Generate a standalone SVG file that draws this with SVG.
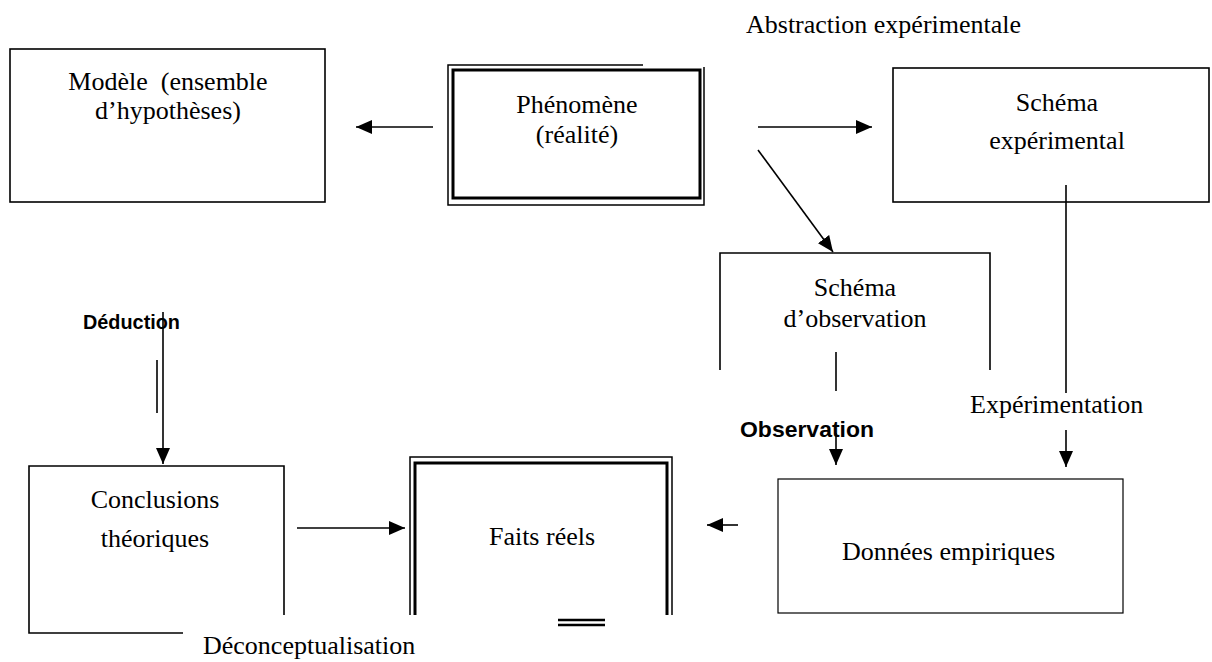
<svg xmlns="http://www.w3.org/2000/svg" width="1212" height="662" viewBox="0 0 1212 662">
<style>
.t{font-family:"Liberation Serif","Times New Roman",serif;font-size:26px;fill:#000}
.b{font-family:"Liberation Sans",Arial,sans-serif;font-weight:bold;fill:#000}
.box{fill:none;stroke:#000;stroke-width:1.6}
.thin{fill:none;stroke:#000;stroke-width:1.5}
.thick{fill:none;stroke:#000;stroke-width:3}
.c{fill:none;stroke:#000;stroke-width:1.6}
</style>
<defs>
<marker id="ah" viewBox="0 0 16 14" refX="16" refY="7" markerWidth="16" markerHeight="14" markerUnits="userSpaceOnUse" orient="auto">
<path d="M0,0 L16,7 L0,14 Z" fill="#000"/>
</marker>
</defs>
<rect width="1212" height="662" fill="#fff"/>

<text class="t" x="746" y="33">Abstraction expérimentale</text>

<g id="modele">
<rect class="box" x="10" y="49" width="315" height="153"/>
<text class="t" x="168" y="90" text-anchor="middle" xml:space="preserve">Modèle  (ensemble</text>
<text class="t" x="168" y="119" text-anchor="middle">d’hypothèses)</text>
</g>

<g id="phenomene">
<path class="thin" d="M643,65 H448 V205 H704 V67"/>
<rect class="thick" x="453" y="70" width="247" height="128"/>
<text class="t" x="577" y="113" text-anchor="middle">Phénomène</text>
<text class="t" x="577" y="143" text-anchor="middle">(réalité)</text>
</g>

<g id="schema-experimental">
<rect class="box" x="893" y="68" width="316" height="134"/>
<text class="t" x="1057" y="111" text-anchor="middle">Schéma</text>
<text class="t" x="1057" y="149" text-anchor="middle">expérimental</text>
</g>

<g id="schema-observation">
<path class="box" d="M720,370 V253 H990 V370"/>
<text class="t" x="855" y="296" text-anchor="middle">Schéma</text>
<text class="t" x="855" y="327" text-anchor="middle">d’observation</text>
</g>

<g id="conclusions">
<path class="box" d="M183,633 H29 V466 H284 V615"/>
<text class="t" x="155" y="508" text-anchor="middle">Conclusions</text>
<text class="t" x="155" y="547" text-anchor="middle">théoriques</text>
</g>

<g id="faits">
<path class="thin" d="M410,615 V457 H672 V615"/>
<path class="thick" d="M415,615 V463 H667 V615"/>
<path class="thick" d="M558,620 H605 M558,625 H605" style="stroke-width:2.5"/>
<text class="t" x="542" y="545" text-anchor="middle">Faits réels</text>
</g>

<g id="donnees">
<rect class="box" x="778" y="479" width="345" height="134" style="stroke-width:1.2"/>
<text class="t" x="842" y="560">Données empiriques</text>
</g>

<g id="labels">
<text class="b" x="83" y="329" font-size="21" textLength="97" lengthAdjust="spacingAndGlyphs">Déduction</text>
<text class="b" x="740" y="437" font-size="22" textLength="134" lengthAdjust="spacingAndGlyphs">Observation</text>
<text class="t" x="970" y="413">Expérimentation</text>
<text class="t" x="203" y="654">Déconceptualisation</text>
</g>

<g id="connectors">
<line class="c" x1="433" y1="127" x2="356" y2="127" marker-end="url(#ah)"/>
<line class="c" x1="758" y1="127" x2="872" y2="127" marker-end="url(#ah)"/>
<line class="c" x1="758" y1="150" x2="833" y2="252" marker-end="url(#ah)"/>
<line class="c" x1="1066" y1="185" x2="1066" y2="393"/>
<line class="c" x1="1066" y1="430" x2="1066" y2="467" marker-end="url(#ah)"/>
<line class="c" x1="836" y1="352" x2="836" y2="391"/>
<line class="c" x1="836" y1="433" x2="836" y2="465" marker-end="url(#ah)"/>
<line class="c" x1="163" y1="312" x2="163" y2="464" marker-end="url(#ah)"/>
<line class="c" x1="157" y1="360" x2="157" y2="413"/>
<line class="c" x1="297" y1="528" x2="405" y2="528" marker-end="url(#ah)"/>
<line class="c" x1="738" y1="525" x2="707" y2="525" marker-end="url(#ah)"/>
</g>
</svg>
